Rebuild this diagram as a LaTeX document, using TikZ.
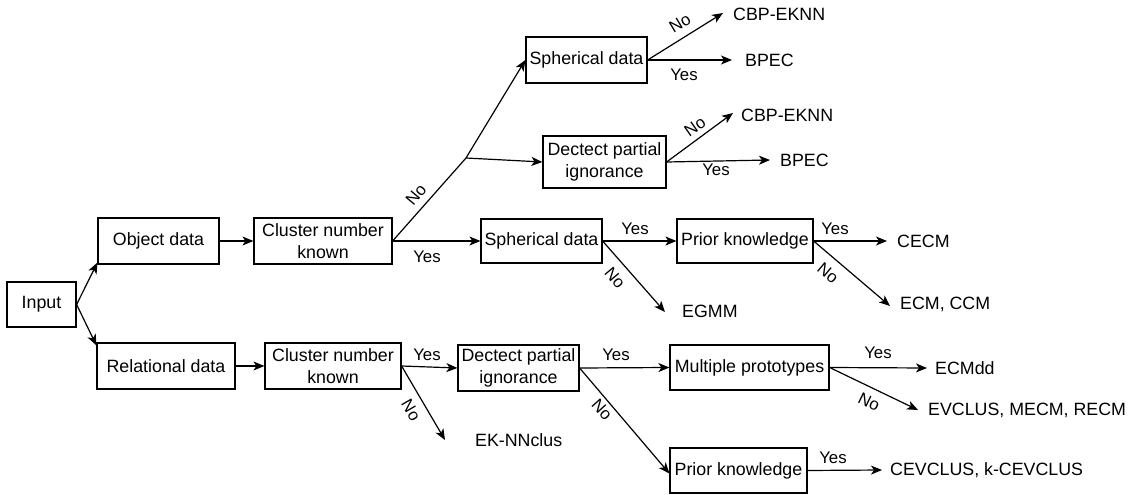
\documentclass[tikz,border=0pt]{standalone}
\usepackage{fontspec}
\setmainfont{Liberation Sans}
\usetikzlibrary{arrows.meta}
\begin{document}
\begin{tikzpicture}[x=1pt,y=-1pt,
  box/.style={draw,line width=1.2pt,inner sep=0pt,align=center,font=\fontsize{17.8}{21.5}\selectfont},
  leaf/.style={inner sep=0pt,anchor=west,font=\fontsize{17.8}{21.5}\selectfont},
  lbl/.style={inner sep=0pt,font=\fontsize{16.8}{20}\selectfont},
  arr/.style={line width=1.2pt,-{Stealth[length=11pt,width=9pt,inset=3pt]}},
  ln/.style={line width=1.2pt}]
\useasboundingbox (0,0) rectangle (1141,495);
% boxes
\node[box,minimum width=69pt,minimum height=45pt] (input) at (41.5,304.5) {Input};
\node[box,minimum width=121pt,minimum height=46pt] (obj) at (158.5,241) {Object data};
\node[box,minimum width=138pt,minimum height=46pt] (cnk1) at (323,241) {Cluster number\\known};
\node[box,minimum width=138pt,minimum height=46pt] (rel) at (166,366) {Relational data};
\node[box,minimum width=136pt,minimum height=46pt] (cnk2) at (333,366) {Cluster number\\known};
\node[box,minimum width=121pt,minimum height=46pt] (sph1) at (586.5,60) {Spherical data};
\node[box,minimum width=123pt,minimum height=52pt] (dpi1) at (604.5,162) {Dectect partial\\ignorance};
\node[box,minimum width=121pt,minimum height=44pt] (sph2) at (541.5,241) {Spherical data};
\node[box,minimum width=136pt,minimum height=44pt] (pk1) at (745,241) {Prior knowledge};
\node[box,minimum width=121pt,minimum height=46pt] (dpi2) at (518.5,368) {Dectect partial\\ignorance};
\node[box,minimum width=159pt,minimum height=45pt] (mp) at (749.5,367.5) {Multiple prototypes};
\node[box,minimum width=137pt,minimum height=45pt] (pk2) at (738.5,470.5) {Prior knowledge};
% leaves
\node[leaf] (cbp1) at (733,14) {CBP-EKNN};
\node[leaf] (bpec1) at (745,60) {BPEC};
\node[leaf] (cbp2) at (741,115) {CBP-EKNN};
\node[leaf] (bpec2) at (780,160) {BPEC};
\node[leaf] (cecm) at (897,241) {CECM};
\node[leaf] (ecm) at (900,304) {ECM, CCM};
\node[leaf] (egmm) at (682,311) {EGMM};
\node[leaf] (eknn) at (475,440) {EK-NNclus};
\node[leaf] (ecmdd) at (935,368) {ECMdd};
\node[leaf] (evclus) at (928,410) {EVCLUS, MECM, RECM};
\node[leaf] (cevclus) at (890,470) {CEVCLUS, k-CEVCLUS};
% connectors
\coordinate (br) at (466,158);
\draw[arr] (input.east) -- ([yshift=2]obj.south west);
\draw[arr] (input.east) -- ([yshift=-3]rel.north west);
\draw[arr] (obj.east) -- (cnk1.west);
\draw[arr] (rel.east) -- (cnk2.west);
\draw[ln] (cnk1.east) -- (br);
\draw[arr] (br) -- (sph1.west);
\draw[arr] (br) -- (dpi1.west);
\draw[arr] (cnk1.east) -- (sph2.west);
\draw[arr] (sph1.east) -- ([xshift=-10,yshift=1]cbp1.west);
\draw[arr] (sph1.east) -- ([xshift=-13]bpec1.west);
\draw[arr] (dpi1.east) -- ([xshift=-8,yshift=2]cbp2.west);
\draw[arr] (dpi1.east) -- ([xshift=-10]bpec2.west);
\draw[arr] (sph2.east) -- (pk1.west);
\draw[arr] (sph2.east) -- ([xshift=-17,yshift=-1]egmm.west);
\draw[arr] (pk1.east) -- ([xshift=-10]cecm.west);
\draw[arr] (pk1.east) -- ([xshift=-10,yshift=-2]ecm.west);
\draw[arr] (cnk2.east) -- (dpi2.west);
\draw[arr] (cnk2.east) -- ([xshift=-30]eknn.west);
\draw[arr] (dpi2.east) -- (mp.west);
\draw[arr] (dpi2.east) -- ([yshift=-3]pk2.west);
\draw[arr] (mp.east) -- ([xshift=-8]ecmdd.west);
\draw[arr] (mp.east) -- ([xshift=-10]evclus.west);
\draw[arr] (pk2.east) -- ([xshift=-8]cevclus.west);
% labels
\node[lbl] (y1) at (427,257) {Yes};
\node[lbl] (y2) at (684,75) {Yes};
\node[lbl] (y3) at (716,170) {Yes};
\node[lbl] (y4) at (635,229) {Yes};
\node[lbl] (y5) at (835,229) {Yes};
\node[lbl] (y6) at (427,355) {Yes};
\node[lbl] (y7) at (616,355) {Yes};
\node[lbl] (y8) at (878,353) {Yes};
\node[lbl] (y9) at (833,458) {Yes};
\node[lbl,rotate=50] (n1) at (416,195) {No};
\node[lbl,rotate=31] (n2) at (680,23) {No};
\node[lbl,rotate=35] (n3) at (695,127) {No};
\node[lbl,rotate=-50] (n4) at (615,278) {No};
\node[lbl,rotate=-40] (n5) at (828,273) {No};
\node[lbl,rotate=-60] (n6) at (411,410) {No};
\node[lbl,rotate=-48] (n7) at (602,410) {No};
\node[lbl,rotate=-26] (n8) at (869,402) {No};
\end{tikzpicture}
\end{document}
